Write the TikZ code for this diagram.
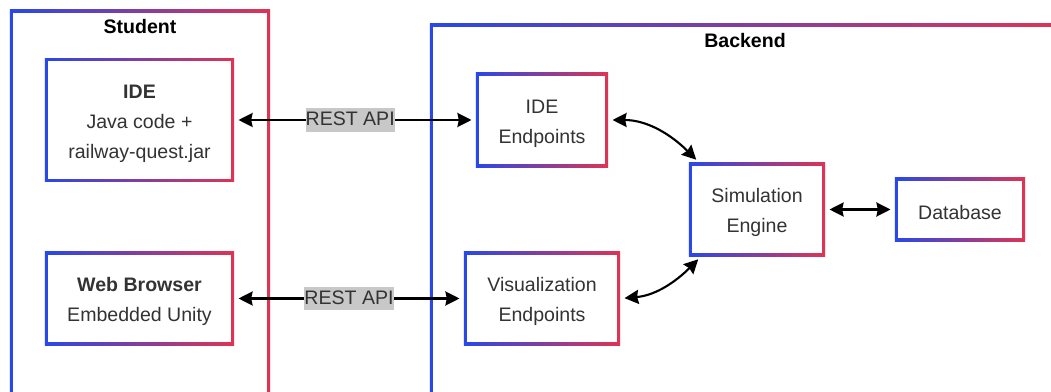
\documentclass[tikz,border=0pt]{standalone}
\usepackage{fontspec}
\setmainfont{Liberation Sans}
\usetikzlibrary{arrows.meta}
\definecolor{gblue}{RGB}{40,72,232}
\definecolor{gred}{RGB}{222,52,84}
\definecolor{txtgray}{RGB}{51,51,51}
\definecolor{apigray}{RGB}{200,200,200}
\newcommand{\topstrut}{\rule{0pt}{14.5pt}}

\begin{document}
\begin{tikzpicture}[
    x=0.025cm, y=-0.025cm,
    font=\fontsize{13.9}{21.3}\selectfont,
    box/.style={rectangle, inner sep=0pt, align=center, text=txtgray,
        left color=gblue, right color=gred,
        path picture={\fill[white] ([shift={(2pt,2pt)}]path picture bounding box.south west)
            rectangle ([shift={(-2pt,-2pt)}]path picture bounding box.north east);}},
    title/.style={font=\fontsize{13.9}{21.3}\selectfont\bfseries, text=black},
    arrow/.style={{Stealth[length=10pt,width=10pt,inset=1pt]}-{Stealth[length=10pt,width=10pt,inset=1pt]},
        line width=1.5pt, shorten <=3pt, shorten >=3pt},
    api/.style={fill=apigray, text=txtgray, inner xsep=0pt, inner ysep=0.7pt,
        text height=11.5pt, text depth=3.5pt}
]
    \useasboundingbox (0,0) rectangle (1051,392);
    \clip (0,0) rectangle (1051,392);

    % Containers
    \node[box, minimum width=6.5cm, minimum height=10.25cm] (student) at (140,215) {};
    \node[box, minimum width=15.75cm, minimum height=9.9cm] (backend) at (745,222) {};
    \node[title] (studentlbl) at (140,27) {Student};
    \node[title] (backendlbl) at (745,41) {Backend};

    % Nodes
    \node[box, minimum width=4.725cm, minimum height=3.075cm] (ide) at (139.5,120)
        {\topstrut\textbf{IDE}\\Java code +\\railway-quest.jar};
    \node[box, minimum width=4.725cm, minimum height=2.325cm] (browser) at (139.5,298.5)
        {\topstrut\textbf{Web Browser}\\Embedded Unity};
    \node[box, minimum width=3.3cm, minimum height=2.35cm] (ideep) at (542,120)
        {\topstrut IDE\\Endpoints};
    \node[box, minimum width=3.9cm, minimum height=2.325cm] (visep) at (542,298.5)
        {\topstrut Visualization\\Endpoints};
    \node[box, minimum width=3.4cm, minimum height=2.325cm] (sim) at (757,209.5)
        {\topstrut Simulation\\Engine};
    \node[box, minimum width=3.25cm, minimum height=1.575cm] (db) at (960,209.5)
        {\topstrut Database};

    % Arrows
    \draw[arrow] (ide) -- node[api, pos=0.48] {REST API} (ideep);
    \draw[arrow] (browser) -- node[api] {REST API} (visep);
    \draw[arrow] (ideep.east) to[out=0, in=135] (sim.141);
    \draw[arrow] (visep.east) to[out=5, in=225] (sim.220);
    \draw[arrow] (sim) -- (db);
\end{tikzpicture}
\end{document}
